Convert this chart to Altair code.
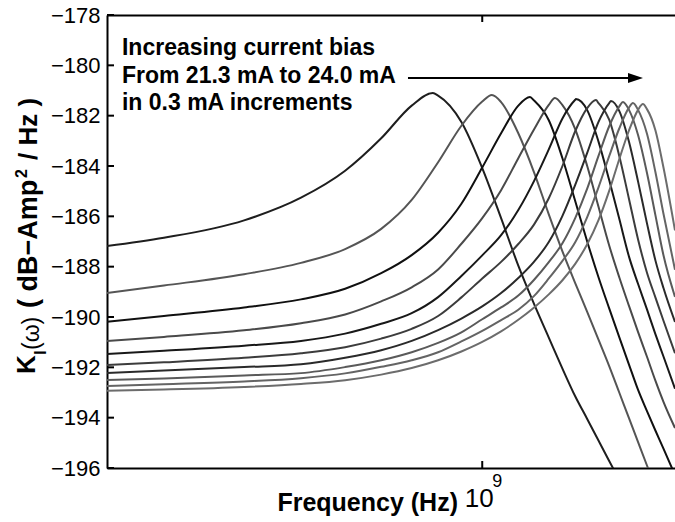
import altair as alt
import pandas as pd

# ---- data ----
freq_mhz = [150, 200, 300, 400, 500, 600, 700, 800, 900, 1000, 1100, 1200, 1300,
            1400, 1500, 1600, 1700, 1800, 1900, 2000, 2100, 2200, 2300, 2400, 2500, 2650]

bias_ma = [21.3, 21.6, 21.9, 22.2, 22.5, 22.8, 23.1, 23.4, 23.7, 24.0]

k_213 = [-187.18, -186.85, -186.16, -185.26, -184.19, -182.90, -181.60, -181.20, -182.25, -184.08,
         -186.07, -187.96, -189.49, -190.82, -192.05, -193.15, -194.05, -194.91, -195.72, -196.48,
         None, None, None, None, None, None]
k_216 = [-189.05, -188.75, -188.30, -187.85, -187.30, -186.50, -185.35, -183.85, -182.40, -181.44,
         -181.46, -182.70, -184.26, -185.92, -187.39, -188.65, -189.80, -190.90, -191.95, -193.01,
         -194.02, -194.98, -195.90, -196.79, None, None]
k_219 = [-190.19, -189.96, -189.62, -189.30, -188.88, -188.26, -187.54, -186.65, -185.50, -184.06,
         -182.70, -181.60, -181.40, -182.18, -183.69, -185.39, -187.00, -188.42, -189.66, -190.81,
         -191.89, -192.91, -193.74, -194.51, -195.23, -196.28]
k_222 = [-190.95, -190.79, -190.53, -190.25, -189.90, -189.38, -188.82, -188.11, -187.09, -186.07,
         -184.96, -183.69, -182.54, -181.57, -181.58, -182.53, -184.00, -185.62, -187.16, -188.43,
         -189.56, -190.61, -191.58, -192.53, -193.37, -194.41]
k_225 = [-191.47, -191.34, -191.14, -190.95, -190.66, -190.27, -189.85, -189.21, -188.37, -187.55,
         -186.75, -185.75, -184.59, -183.34, -182.11, -181.37, -181.78, -183.03, -184.56, -186.11,
         -187.60, -188.70, -189.70, -190.68, -191.57, -192.85]
k_228 = [-191.91, -191.80, -191.62, -191.44, -191.20, -190.86, -190.47, -189.96, -189.22, -188.47,
         -187.81, -187.10, -186.32, -185.28, -184.00, -182.62, -181.70, -181.50, -182.16, -183.61,
         -185.31, -186.94, -188.24, -189.22, -190.15, -191.44]
k_231 = [-192.23, -192.13, -191.99, -191.88, -191.62, -191.32, -190.95, -190.52, -190.06, -189.58,
         -189.05, -188.45, -187.80, -187.02, -185.98, -184.75, -183.48, -182.25, -181.50, -181.82,
         -183.04, -184.64, -186.28, -187.75, -188.85, -190.20]
k_234 = [-192.50, -192.44, -192.32, -192.23, -191.99, -191.72, -191.40, -191.03, -190.61, -190.09,
         -189.62, -189.15, -188.52, -187.82, -187.07, -186.07, -184.90, -183.60, -182.42, -181.63,
         -181.77, -182.79, -184.28, -185.95, -187.55, -189.20]
k_237 = [-192.74, -192.67, -192.56, -192.43, -192.24, -191.98, -191.72, -191.40, -190.97, -190.55,
         -190.12, -189.71, -189.16, -188.47, -187.77, -187.03, -186.03, -184.85, -183.61, -182.50,
         -181.68, -181.78, -182.72, -184.24, -185.90, -188.12]
k_240 = [-192.93, -192.88, -192.78, -192.66, -192.51, -192.29, -192.03, -191.72, -191.37, -190.99,
         -190.57, -190.11, -189.62, -189.10, -188.54, -187.89, -187.11, -186.15, -184.99, -183.72,
         -182.59, -181.76, -181.74, -182.58, -184.06, -186.56]

peak_freq_mhz = [779, 1050, 1273, 1444, 1606, 1777, 1917, 2037, 2142, 2253]
peak_db = [-181.10, -181.18, -181.26, -181.30, -181.34, -181.38, -181.42, -181.46, -181.50, -181.54]

y_ticks = [-196, -194, -192, -190, -188, -186, -184, -182, -180, -178]
x_ticks = [1e9]

note_lines = ["Increasing current bias", "From 21.3 mA to 24.0 mA", "in 0.3 mA increments"]
note_freq = [1.618e8, 1.618e8, 1.618e8]
note_db = [-179.59, -180.70, -181.775]

arrow_start_freq = 6.87e8
arrow_end_freq = 2.11e9
arrow_head_freq = 2.17e9
arrow_db = -180.50

line_colors = ["#1e1e1e", "#555555", "#101010", "#4a4a4a", "#181818",
               "#3c3c3c", "#2a2a2a", "#5a5a5a", "#646464", "#6c6c6c"]

FONT = "Liberation Sans"

# ---- build table ----
curves = [k_213, k_216, k_219, k_222, k_225, k_228, k_231, k_234, k_237, k_240]
bias_labels = [f"{b:.1f} mA" for b in bias_ma]
rows = []
for lab, vals, pf, pdb in zip(bias_labels, curves, peak_freq_mhz, peak_db):
    pts = [(f * 1e6, v) for f, v in zip(freq_mhz, vals) if v is not None]
    pts.append((pf * 1e6, pdb))
    pts.sort()
    for f, v in pts:
        rows.append({"bias": lab, "freq": f, "db": v})
df = pd.DataFrame(rows)

xscale = alt.Scale(type="log", domain=[1.5e8, 2.65e9])
yscale = alt.Scale(domain=[-196, -178])

lines = alt.Chart(df).mark_line(strokeWidth=2, interpolate="monotone", clip=True).encode(
    x=alt.X("freq:Q", scale=xscale,
            axis=alt.Axis(orient="bottom", values=x_ticks, labels=False, ticks=False,
                          domain=True, domainColor="black", domainWidth=2, grid=False, title=None)),
    y=alt.Y("db:Q", scale=yscale,
            axis=alt.Axis(orient="left", values=y_ticks, format="d", ticks=False, domain=True,
                          domainColor="black", domainWidth=2, grid=False, title=None,
                          labelFont=FONT, labelFontSize=22, labelColor="black",
                          labelPadding=7, labelOverlap=False)),
    color=alt.Color("bias:N", scale=alt.Scale(domain=bias_labels, range=line_colors), legend=None),
)

xt = pd.DataFrame({"freq": x_ticks})
top_axis = alt.Chart(xt).mark_rule(strokeWidth=2, color="black").encode(
    x=alt.X("freq:Q", scale=xscale,
            axis=alt.Axis(orient="top", labels=False, ticks=False, domain=True,
                          domainColor="black", domainWidth=2, grid=False, title=None)),
    y=alt.value(0), y2=alt.value(7),
)
bottom_tick = alt.Chart(xt).mark_rule(strokeWidth=2, color="black").encode(
    x=alt.X("freq:Q", scale=xscale, axis=None),
    y=alt.value(453), y2=alt.value(446),
)
y_tick_marks = alt.Chart(pd.DataFrame({"db": y_ticks})).mark_rule(strokeWidth=2, color="black").encode(
    y=alt.Y("db:Q", scale=yscale, axis=None),
    x=alt.value(0), x2=alt.value(7),
)

# 10^9 label
ten = alt.Chart(xt).mark_text(font=FONT, fontSize=26, align="center", baseline="alphabetic",
                              color="black", dx=-3).encode(
    x=alt.X("freq:Q", scale=xscale, axis=None), y=alt.value(492), text=alt.value("10"))
nine = alt.Chart(xt).mark_text(font=FONT, fontSize=18, align="left", baseline="alphabetic",
                               color="black", dx=10).encode(
    x=alt.X("freq:Q", scale=xscale, axis=None), y=alt.value(472), text=alt.value("9"))

x_title = alt.Chart(xt).mark_text(font=FONT, fontSize=25, fontWeight="bold", align="right",
                                  baseline="alphabetic", color="black").encode(
    x=alt.value(351), y=alt.value(496), text=alt.value("Frequency (Hz)"))


def ytext(txt, x, y, size, weight):
    return alt.Chart(xt).mark_text(font=FONT, fontSize=size, fontWeight=weight, angle=270,
                                   align="left", baseline="alphabetic", color="black").encode(
        x=alt.value(x), y=alt.value(y), text=alt.value(txt))


y_title = [
    ytext("K", -72, 359, 26, "bold"),
    ytext("I", -61, 340, 17, "bold"),
    ytext("(ω)", -68, 335, 23, "normal"),
    ytext("( dB−Amp", -70, 293, 27, "bold"),
    ytext("2", -80, 163, 16, "bold"),
    ytext("/ Hz )", -70, 145, 26, "bold"),
]

notes = alt.Chart(pd.DataFrame({"t": note_lines, "freq": note_freq, "db": note_db})).mark_text(
    font=FONT, fontSize=23, fontWeight="bold", align="left", baseline="alphabetic", color="black"
).encode(
    x=alt.X("freq:Q", scale=xscale, axis=None),
    y=alt.Y("db:Q", scale=yscale, axis=None),
    text="t:N",
)

arrow_df = pd.DataFrame({"f1": [arrow_start_freq], "f2": [arrow_end_freq], "db": [arrow_db],
                         "fh": [arrow_head_freq]})
arrow_line = alt.Chart(arrow_df).mark_rule(strokeWidth=2, color="black").encode(
    x=alt.X("f1:Q", scale=xscale, axis=None), x2="f2:Q",
    y=alt.Y("db:Q", scale=yscale, axis=None),
)
arrow_head = alt.Chart(arrow_df).mark_point(
    shape="M-1,-0.67L1,0L-1,0.67Z", size=225, filled=True, color="black", opacity=1
).encode(
    x=alt.X("fh:Q", scale=xscale, axis=None),
    y=alt.Y("db:Q", scale=yscale, axis=None),
)

chart = alt.layer(
    lines, top_axis, bottom_tick, y_tick_marks, ten, nine, x_title, *y_title, notes,
    arrow_line, arrow_head
).resolve_axis(x="independent", y="independent").properties(
    width=568, height=453,
    autosize=alt.AutoSizeParams(type="none"),
    padding={"left": 107, "top": 15, "right": 0, "bottom": 54},
    background="white",
).configure_view(stroke=None)

chart.save("out.html", embed_options={"renderer": "svg", "actions": False})
